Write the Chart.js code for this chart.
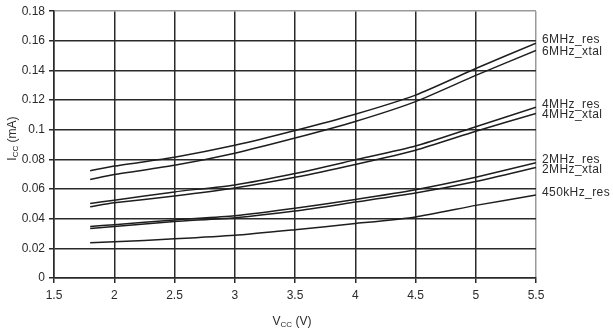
<!DOCTYPE html>
<html>
<head>
<meta charset="utf-8">
<script src="https://cdn.jsdelivr.net/npm/chart.js@4"></script>
<style>
html,body{margin:0;padding:0;background:#fff;}
#wrap{width:613px;height:329px;position:relative;}
</style>
</head>
<body>
<div id="wrap"><canvas id="c" width="613" height="329"></canvas></div>
<script>
const vcc = [1.8, 2.0, 2.5, 3.0, 3.5, 4.0, 4.5, 5.0, 5.5];
const seriesNames = ["6MHz_res", "6MHz_xtal", "4MHz_res", "4MHz_xtal", "2MHz_res", "2MHz_xtal", "450kHz_res"];
const mhz6Res   = [0.0724, 0.0755, 0.0815, 0.0895, 0.0995, 0.1105, 0.1234, 0.1413, 0.1585];
const mhz6Xtal  = [0.0664, 0.0698, 0.0760, 0.0842, 0.0944, 0.1056, 0.1190, 0.1367, 0.1535];
const mhz4Res   = [0.0503, 0.0525, 0.0581, 0.0628, 0.0705, 0.0797, 0.0890, 0.1021, 0.1152];
const mhz4Xtal  = [0.0480, 0.0507, 0.0553, 0.0607, 0.0679, 0.0766, 0.0862, 0.0990, 0.1110];
const mhz2Res   = [0.0348, 0.0359, 0.0392, 0.0420, 0.0470, 0.0530, 0.0596, 0.0680, 0.0777];
const mhz2Xtal  = [0.0334, 0.0348, 0.0381, 0.0407, 0.0452, 0.0512, 0.0573, 0.0651, 0.0746];
const khz450Res = [0.0237, 0.0244, 0.0264, 0.0288, 0.0326, 0.0367, 0.0412, 0.0490, 0.0560];
const xTicks = [1.5, 2, 2.5, 3, 3.5, 4, 4.5, 5, 5.5];
const yTicks = [0, 0.02, 0.04, 0.06, 0.08, 0.1, 0.12, 0.14, 0.16, 0.18];

const allSeries = [mhz6Res, mhz6Xtal, mhz4Res, mhz4Xtal, mhz2Res, mhz2Xtal, khz450Res];
const FONT = "'Liberation Sans', Arial, sans-serif";
const DARK = "#2a2a2a";
const LIGHT = "#9a9a9a";
const TEXT = "#2b2b2b";

const datasets = allSeries.map((vals, i) => ({
  label: seriesNames[i],
  data: vals.map((v, j) => ({x: vcc[j], y: v})),
  borderColor: "#1e1e1e",
  borderWidth: 1.5,
  pointRadius: 0,
  tension: 0.2,
  fill: false
}));

const labelOffsets = [-3, 1.5, -3, 1.5, -3, 2, -2];

const overlay = {
  id: "overlay",
  afterDraw(chart) {
    const ctx = chart.ctx;
    const area = chart.chartArea;
    ctx.save();
    ctx.fillStyle = TEXT;
    ctx.font = "12px " + FONT;
    if ("letterSpacing" in ctx) ctx.letterSpacing = "0.4px";
    ctx.textBaseline = "middle";
    ctx.textAlign = "left";
    chart.data.datasets.forEach((ds, i) => {
      const meta = chart.getDatasetMeta(i);
      const last = meta.data[meta.data.length - 1];
      ctx.fillText(ds.label, area.right + 6, last.y + labelOffsets[i]);
    });
    if ("letterSpacing" in ctx) ctx.letterSpacing = "0px";
    const cx = (area.left + area.right) / 2 - 3;
    drawSub(ctx, "V", "CC", " (V)", cx, 322);
    ctx.translate(13, (area.top + area.bottom) / 2 - 6);
    ctx.rotate(-Math.PI / 2);
    drawSub(ctx, "I", "CC", " (mA)", 0, 0);
    ctx.restore();
  }
};

function drawSub(ctx, main, sub, rest, cx, cy) {
  const fMain = "12px " + FONT;
  const fSub = "8px " + FONT;
  ctx.font = fMain;
  const w1 = ctx.measureText(main).width;
  const w3 = ctx.measureText(rest).width;
  ctx.font = fSub;
  const w2 = ctx.measureText(sub).width;
  const total = w1 + w2 + w3;
  let x = cx - total / 2;
  ctx.textAlign = "left";
  ctx.textBaseline = "middle";
  ctx.fillStyle = TEXT;
  ctx.font = fMain;
  ctx.fillText(main, x, cy);
  x += w1;
  ctx.font = fSub;
  ctx.fillText(sub, x, cy + 3);
  x += w2;
  ctx.font = fMain;
  ctx.fillText(rest, x, cy);
}

new Chart(document.getElementById("c"), {
  type: "line",
  data: { datasets },
  plugins: [overlay],
  options: {
    responsive: false,
    animation: false,
    devicePixelRatio: 1,
    layout: { padding: { top: 7, right: 77, left: 0, bottom: 0 } },
    plugins: { legend: { display: false }, tooltip: { enabled: false } },
    scales: {
      x: {
        type: "linear",
        min: 1.5, max: 5.5,
        afterBuildTicks(s) { s.ticks = xTicks.map(v => ({value: v})); },
        afterFit(s) { s.height = 51; },
        grid: {
          color: c => c.tick && c.tick.value === 5.5 ? LIGHT : DARK,
          lineWidth: 1.5,
          tickLength: 5,
          tickColor: DARK
        },
        border: { color: DARK, width: 1.5 },
        ticks: {
          color: TEXT,
          font: { family: FONT, size: 12 },
          padding: 5,
          maxRotation: 0,
          callback: v => String(v)
        }
      },
      y: {
        type: "linear",
        min: 0, max: 0.18,
        afterBuildTicks(s) { s.ticks = yTicks.map(v => ({value: v})); },
        afterFit(s) { s.width = 54; },
        grid: {
          color: c => c.tick && Math.abs(c.tick.value - 0.18) < 1e-9 ? LIGHT : DARK,
          lineWidth: 1.5,
          tickLength: 5,
          tickColor: DARK
        },
        border: { color: DARK, width: 1.5 },
        ticks: {
          color: TEXT,
          font: { family: FONT, size: 12 },
          padding: 4,
          callback: v => String(Math.round(v * 100) / 100)
        }
      }
    }
  }
});
</script>
</body>
</html>
